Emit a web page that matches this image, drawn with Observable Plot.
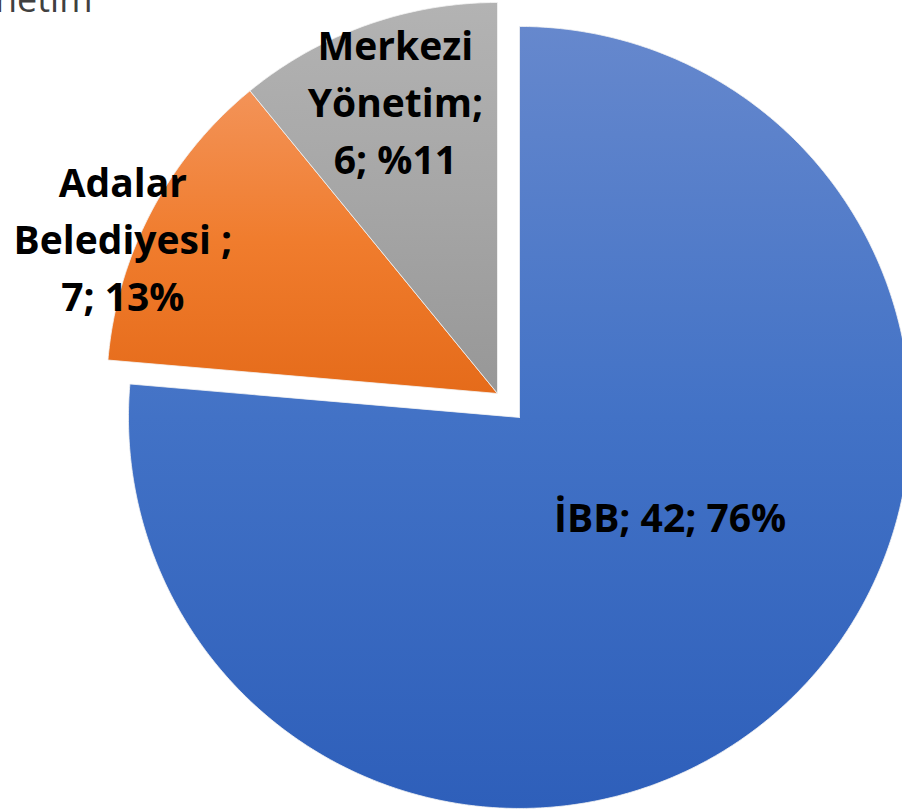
<!DOCTYPE html>
<html>
<head>
<meta charset="utf-8">
<script src="https://cdn.jsdelivr.net/npm/d3@7"></script>
<script src="https://cdn.jsdelivr.net/npm/@observablehq/plot@0.6"></script>
<style>
  html, body { margin: 0; padding: 0; background: #ffffff; }
  #chart svg { display: block; }
</style>
</head>
<body>
<div id="chart"></div>
<script>
// ---- data ----
const categories = ["İBB", "Adalar Belediyesi", "Merkezi Yönetim"];
const values = [42, 7, 6];
const labelTexts = ["İBB; 42; 76%", "Adalar\nBelediyesi ;\n7; 13%", "Merkezi\nYönetim;\n6; %11"];
const titleFragment = "netim";

// ---- styles / layout ----
const gradTop = ["#6688cd", "#f39358", "#b3b3b3"];
const gradMid = ["#4272c6", "#f07c2d", "#a6a6a6"];
const gradBot = ["#2e5fba", "#e56b1a", "#979797"];
const W = 902, H = 810;
const cx = 497, cy = 393, R = 391;
const explode = [32.5, 0, 0];
const labelRadius = [0.46, 1.04, 0.80];
const labelNudge = [[29, -36], [-15, 32], [3, -0.5]];

const arcs = d3.pie().sort(null).startAngle(0).endAngle(2 * Math.PI)(values);

const pts = [];
const labels = [];
arcs.forEach((a, i) => {
  const mid = (a.startAngle + a.endAngle) / 2;
  const ox = cx + explode[i] * Math.sin(mid);
  const oy = cy - explode[i] * Math.cos(mid);
  const id = "g" + i;
  pts.push({name: categories[i], fill: `url(#${id})`, x: ox, y: oy});
  const n = Math.max(8, Math.ceil((a.endAngle - a.startAngle) * 180 / Math.PI * 2));
  for (let k = 0; k <= n; k++) {
    const t = a.startAngle + (a.endAngle - a.startAngle) * k / n;
    pts.push({name: categories[i], fill: `url(#${id})`, x: ox + R * Math.sin(t), y: oy - R * Math.cos(t)});
  }
  pts.push({name: categories[i], fill: `url(#${id})`, x: ox, y: oy});
  const lr = labelRadius[i] * R;
  labels.push({
    text: labelTexts[i],
    x: ox + lr * Math.sin(mid) + labelNudge[i][0],
    y: oy - lr * Math.cos(mid) + labelNudge[i][1]
  });
});

const chart = Plot.plot({
  width: W,
  height: H,
  margin: 0,
  x: {domain: [0, W], range: [0, W], axis: null},
  y: {domain: [0, H], range: [0, H], axis: null},
  color: {type: "identity"},
  style: {background: "white", overflow: "hidden"},
  marks: [
    Plot.line(pts, {x: "x", y: "y", z: "name", fill: "fill", stroke: "#f4f4f4", strokeWidth: 0.8, curve: "linear"}),
    Plot.text(labels, {
      x: "x", y: "y", text: "text",
      fontSize: 39, fontWeight: "bold", fontFamily: "Open Sans",
      lineHeight: 1.46, fill: "#000000", textAnchor: "middle", lineAnchor: "middle"
    }),
    Plot.text([titleFragment], {
      x: () => 92, y: () => 11 - 0.32 * 36, text: d => d,
      fontSize: 36, fontFamily: "Open Sans", fill: "#404040",
      textAnchor: "end", lineAnchor: "middle"
    })
  ]
});

// gradient definitions for the slice fills
const defs = d3.select(chart).insert("defs", ":first-child");
values.forEach((v, i) => {
  const g = defs.append("linearGradient").attr("id", "g" + i)
    .attr("x1", 0).attr("y1", 0).attr("x2", 0).attr("y2", 1);
  g.append("stop").attr("offset", "0%").attr("stop-color", gradTop[i]);
  g.append("stop").attr("offset", "50%").attr("stop-color", gradMid[i]);
  g.append("stop").attr("offset", "100%").attr("stop-color", gradBot[i]);
});

document.getElementById("chart").appendChild(chart);
</script>
</body>
</html>
